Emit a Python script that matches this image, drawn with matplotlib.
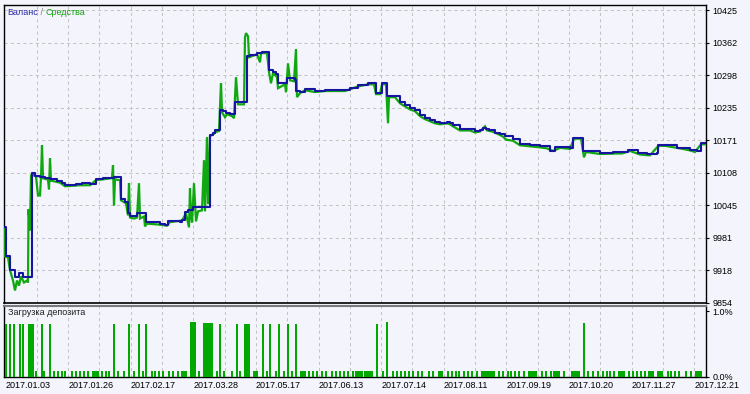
import numpy as np
import matplotlib.pyplot as plt

plt.rcParams['font.family'] = ['Liberation Sans', 'DejaVu Sans']

# balance curve (deal number, value)
balance_x = [0, 1.5, 6, 11, 15, 19, 27.5, 31, 36, 41, 46, 53, 58, 61, 72, 78, 86, 92, 99, 104,
             110, 116.5, 121, 124, 126, 133, 141.5, 156, 161, 164, 176, 178, 181, 184, 189, 206,
             209, 211, 215.7, 219, 222, 226, 231, 243, 246, 253, 258, 264.5, 269, 272, 274, 283,
             291, 292, 296, 301, 311, 321, 331, 341, 346, 354, 364, 372, 378, 383, 391, 396, 401,
             406, 411, 416, 421, 426, 431, 436, 443, 446, 449, 456, 466, 471, 476, 479, 482, 485,
             491, 496, 501, 509, 516, 526, 536, 546, 551, 566, 569, 579, 596, 609, 624, 634, 643,
             653, 654, 673, 686, 693, 697, 702]
balance = [10001, 9944, 9917, 9903, 9911, 9903, 10106, 10102, 10100, 10097, 10095, 10091, 10087,
           10083, 10085, 10087, 10085, 10095, 10097, 10098, 10100, 10057, 10050, 10028, 10022,
           10028, 10011, 10008, 10006, 10013, 10011, 10016, 10031, 10034, 10040, 10181, 10185,
           10190, 10229.5, 10227.5, 10224, 10222, 10245, 10335, 10337, 10341, 10343, 10308, 10304,
           10300, 10282, 10292, 10288, 10267, 10265, 10270.5, 10267, 10269, 10269, 10269, 10272.5,
           10278, 10282, 10263, 10282, 10257, 10257, 10245, 10239, 10233, 10229.5, 10220, 10214,
           10210, 10206, 10204, 10206, 10204, 10200, 10192, 10192, 10188, 10190, 10194, 10192,
           10190, 10186, 10184, 10180, 10172.7, 10163, 10161, 10159, 10150, 10158, 10155.5, 10176,
           10150, 10146, 10147, 10152.6, 10145, 10143.4, 10146, 10162, 10156.5, 10152.6, 10150,
           10165, 10165]

# equity curve (deal number, value)
equity_x = [0, 1, 4, 6, 9, 11, 13, 15, 17, 20, 23, 24, 24.5, 26, 27, 28, 32, 34, 36, 37, 38, 39,
            44, 45, 46, 47, 56, 61, 76, 86, 92, 101, 108, 109, 110, 111, 116, 117, 122, 124, 125,
            126, 130, 133, 135, 136, 140, 141, 143, 156, 163, 166, 178, 182, 185, 186, 187, 188,
            190, 192, 194, 198, 200, 201, 202, 203, 204, 206, 209, 212, 215, 217, 218, 221, 223,
            228, 230, 232, 234, 240, 241, 242, 244, 245, 248, 253, 256, 257, 263, 265, 267, 269,
            273, 274, 281, 282, 284, 286, 290, 292, 293, 296, 301, 311, 321, 331, 341, 346, 354,
            364, 370, 372, 376, 378, 382, 384, 385, 391, 396, 401, 406, 411, 416, 421, 426, 431,
            436, 443, 446, 449, 456, 466, 471, 476, 481, 483, 488, 493, 499, 502, 509, 516, 526,
            536, 543, 549, 556, 566, 570, 577, 580, 582, 596, 613, 618, 626, 636, 641, 646, 653,
            656, 661, 676, 686, 691, 697, 702]
equity = [10001, 9944, 9942, 9917, 9897, 9877.5, 9897, 9887, 9905, 9893, 9897, 9893, 10036, 9995,
          10102, 10104, 10100, 10063, 10063, 10098, 10161, 10096.5, 10094, 10075, 10135.6,
          10092, 10088, 10081, 10083, 10083, 10093, 10095, 10097, 10122, 10043.7,
          10094.5, 10092.6, 10053.5, 10047.6, 10024, 10087, 10020, 10018, 10020, 10087, 10018,
          10022, 10002.6, 10008, 10006, 10004, 10011, 10014, 10028, 10000.7, 10077,
          10024, 10010.4, 10087, 10012.4, 10032, 10034, 10132, 10032, 10102, 10177, 10046,
          10179, 10182, 10187, 10189, 10282, 10225.5, 10215.8, 10221.6, 10218, 10214,
          10294, 10241, 10241, 10372, 10380, 10374, 10333, 10335, 10339, 10323, 10341, 10341,
          10304, 10282, 10302, 10294, 10272.5, 10280, 10264.7, 10321, 10288, 10286, 10349, 10255,
          10263, 10268.5, 10265, 10267, 10267, 10267, 10270.5, 10276, 10280, 10280,
          10261, 10261, 10280, 10280, 10204, 10255, 10255, 10243, 10237, 10231, 10227.5,
          10218, 10212, 10208, 10204, 10202, 10204, 10202, 10198, 10190, 10190, 10186,
          10188, 10198, 10190, 10188, 10184, 10178, 10172, 10170, 10161, 10159,
          10157, 10155, 10150, 10156, 10154, 10174, 10174, 10137.5, 10148, 10144,
          10145, 10145, 10150, 10143, 10142, 10141.5, 10157, 10160, 10160, 10155,
          10151, 10148, 10163, 10163]

# deposit load bars: start deal, width, load %
load_x = [1, 5, 9.3, 15.3, 18, 23.7, 37.3, 45.3, 108.7, 124, 133.7, 141, 186, 199.3, 215, 232,
          240, 257.7, 265.3, 273.7, 283.3, 290.7, 371.7, 381.7, 578.7,
          31, 39.3, 49, 53, 57, 60, 67, 71, 75, 79, 83, 88, 97, 101, 104, 113, 119, 129, 138,
          147, 150, 154, 158, 164, 168, 173, 177, 194, 212, 219, 227, 235, 249, 261.7, 271, 279,
          287, 296, 304, 308, 312, 317, 321, 327, 331, 335, 339, 343, 348, 351, 360, 366, 377.7,
          387.7, 392, 396, 400, 403.7, 407.7, 412.7, 416.7, 424, 428, 433.7, 442.7, 446.7, 451,
          454.3, 458.7, 462.7, 467, 472, 477, 494, 497.7, 502.7, 506, 510, 514.3, 519.3, 524.3,
          536.7, 541, 546, 549.3, 559.3, 566.7, 583.3, 587.7, 592.7, 597.7, 601.7, 605, 609.3,
          614.3, 624.3, 627.7, 632, 636, 640, 644.3, 653.3, 662.7, 666, 670, 674.3, 681, 686, 691]
load_w = [2, 2, 2, 2, 2.3, 6.3, 2, 2, 2, 2, 2, 2, 5.7, 10, 2, 2,
          6, 2, 2, 2, 2, 2, 2, 2, 2,
          2, 2, 2, 2, 2, 2, 2, 2, 2, 2, 2, 7, 2, 2, 2, 2, 2, 2,
          2, 2, 2, 2, 2, 2, 2, 2, 5.7, 2, 2, 2, 2, 2, 5, 2, 2, 2,
          2, 6, 2, 2, 2, 2, 2, 2, 2, 2, 2, 2, 2, 8, 8, 3, 2,
          2, 2, 2, 2, 2, 2, 2, 2, 2, 2, 5.6, 2, 2, 2,
          2, 2, 2, 2, 2, 14, 2, 2, 2, 2, 2, 2, 2, 8.4,
          2, 2, 2, 6.7, 2, 9.3, 2, 2, 2, 2, 2, 2, 2,
          6.7, 2, 2, 2, 2, 2, 5.7, 6, 2, 2, 2, 2, 2, 2, 6.7]
load_h = [0.80] * 12 + [0.83, 0.82, 0.80, 0.80, 0.81, 0.80, 0.80, 0.80, 0.80, 0.80, 0.80, 0.83, 0.82] \
    + [0.09] * (len(load_x) - 25)

dates = ['2017.01.03', '2017.01.26', '2017.02.17', '2017.03.28', '2017.05.17', '2017.06.13',
         '2017.07.14', '2017.08.11', '2017.09.19', '2017.10.20', '2017.11.27', '2017.12.21']
ylabels = ['9854', '9918', '9981', '10045', '10108', '10171', '10235', '10298', '10362', '10425']

bg = '#F4F4FC'
blue = '#1515A0'
green = '#10A810'
gridc = '#C4C4C4'

fig = plt.figure(figsize=(7.5, 3.94), dpi=100, facecolor=bg)
ax = fig.add_axes([4 / 750, 1 - 302.5 / 394, 702 / 750, 297.5 / 394], facecolor=bg)
ax2 = fig.add_axes([4 / 750, 1 - 376.7 / 394, 702 / 750, 71.2 / 394], facecolor=bg, sharex=ax)

gx = [1.5 + 31.3 * k for k in range(1, 23)]

ax.plot(equity_x, equity, color=green, lw=1.6, solid_joinstyle='miter', zorder=3)
ax.plot(balance_x, balance, color=blue, lw=1.5, drawstyle='steps-post', zorder=4)
ax.set_xlim(0, 702)
ax.set_ylim(9854, 10435)

yt = np.linspace(9854, 10425, 10)
ax.yaxis.tick_right()
ax.set_yticks(yt)
ax.set_yticklabels(ylabels)
for y in yt[1:]:
    ax.axhline(y, color=gridc, lw=0.75, ls=(0, (3, 3)), zorder=1)
for x in gx:
    ax.axvline(x, color=gridc, lw=0.75, ls=(0, (3, 3)), zorder=1)
    ax2.axvline(x, color=gridc, lw=0.75, ls=(0, (3, 3)), zorder=1)
ax.tick_params(axis='y', length=2.5, width=0.8, labelsize=6.5, pad=2)
ax.tick_params(axis='x', length=0, labelbottom=False)

ax2.bar(load_x, load_h, width=load_w, align='edge', color='#00A800', linewidth=0,
        antialiased=False, zorder=3)
ax2.set_ylim(0, 1.09)
ax2.yaxis.tick_right()
ax2.set_yticks([0, 1.0])
ax2.set_yticklabels(['0.0%', '1.0%'])
ax2.tick_params(axis='y', length=2.5, width=0.8, labelsize=6.5, pad=2)
ax2.set_xticks([1.5 + 62.6 * i for i in range(len(dates))])
ax2.set_xticklabels(dates, ha='left')
ax2.tick_params(axis='x', length=0, labelsize=6.5, pad=3)

for a in (ax, ax2):
    for s in a.spines.values():
        s.set_color('black')
        s.set_linewidth(1)
ax.spines['bottom'].set_linewidth(1.2)
ax2.spines['top'].set_color('#7A7A7A')
ax2.spines['top'].set_linewidth(1.5)

t1 = ax.text(3.5, 10420, 'Баланс', color='#2A2AA8', fontsize=6.5, va='center', ha='left')
t2 = ax.annotate(' / ', xy=(1, 0), xycoords=t1, va='bottom', ha='left', color='#808080', fontsize=6.5)
ax.annotate('Средства', xy=(1, 0), xycoords=t2, va='bottom', ha='left', color='#10A010', fontsize=6.5)
ax2.text(3.5, 0.99, 'Загрузка депозита', color='#202020', fontsize=6.5, va='center', ha='left')

fig.savefig('out.png', dpi=100, facecolor=bg)
